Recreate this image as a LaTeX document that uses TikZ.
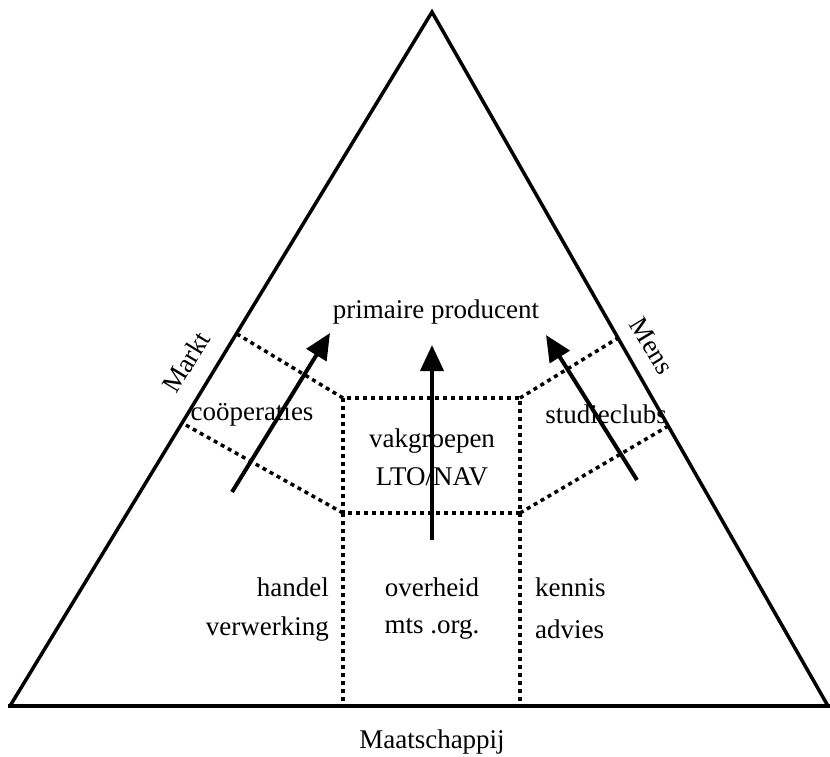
\documentclass[tikz,border=0pt]{standalone}
\usepackage{fontspec}
\setmainfont{Liberation Serif}
\usetikzlibrary{arrows.meta}
\tikzset{side/.style={line width=3.5pt,line join=miter},
  dots/.style={line width=3.5pt,dash pattern=on 4pt off 4pt},
  flow/.style={line width=4pt,-{Triangle[length=26pt,width=23pt]}},
  lbl/.style={font=\fontsize{27}{32}\selectfont,inner sep=0pt}}

\begin{document}
\begin{tikzpicture}[x=1pt,y=-1pt]
  \useasboundingbox (0,0) rectangle (830,756);
  % triangle
  \coordinate (top) at (432,12); \coordinate (bl) at (10,706);
  \coordinate (br) at (828,706); \coordinate (b0) at (8,706);
  \coordinate (b1) at (830,706);
  \draw[side] (bl) -- (top) -- (br); \draw[line width=4.5pt] (b0) -- (b1);
  % dotted box and lines
  \coordinate (nw) at (343,398); \coordinate (ne) at (520,398);
  \coordinate (sw) at (343,513); \coordinate (se) at (520,513);
  \coordinate (lw) at (343,704); \coordinate (le) at (520,704);
  \coordinate (mu) at (237,334); \coordinate (md) at (184,424);
  \coordinate (su) at (618,338); \coordinate (sd) at (670,425);
  \draw[dots] (nw) rectangle (se); \draw[dots] (sw) -- (lw);
  \draw[dots] (se) -- (le);
  \draw[dots] (nw) -- (mu); \draw[dots] (sw) -- (md);
  \draw[dots] (ne) -- (su); \draw[dots] (se) -- (sd);
  % arrows
  \coordinate (a0) at (232,492); \coordinate (a1) at (330,333);
  \coordinate (c0) at (432,540); \coordinate (c1) at (432,345);
  \coordinate (r0) at (637,480); \coordinate (r1) at (546,335);
  \draw[flow] (a0) -- (a1); \draw[flow] (c0) -- (c1);
  \draw[flow] (r0) -- (r1);
  % labels
  \node[lbl] (prod) at (436,312) {primaire producent};
  \node[lbl,rotate=58.7] (markt) at (186,362) {Markt};
  \node[lbl,rotate=-58.7] (mens) at (652,346) {Mens};
  \node[lbl] (coop) at (252,414) {coöperaties};
  \node[lbl] (stud) at (606,414) {studieclubs};
  \node[lbl] (vak) at (432,441) {vakgroepen};
  \node[lbl] (lto) at (432,477) {LTO/NAV};
  \node[lbl,anchor=east] (handel) at (329,587) {handel};
  \node[lbl,anchor=east] (verw) at (329,629) {verwerking};
  \node[lbl] (overh) at (432,587) {overheid};
  \node[lbl] (mts) at (432,629) {mts .org.};
  \node[lbl,anchor=west] (kennis) at (535,587) {kennis};
  \node[lbl,anchor=west] (advies) at (535,629) {advies};
  \node[lbl] (maat) at (432,742) {Maatschappij};
\end{tikzpicture}
\end{document}
